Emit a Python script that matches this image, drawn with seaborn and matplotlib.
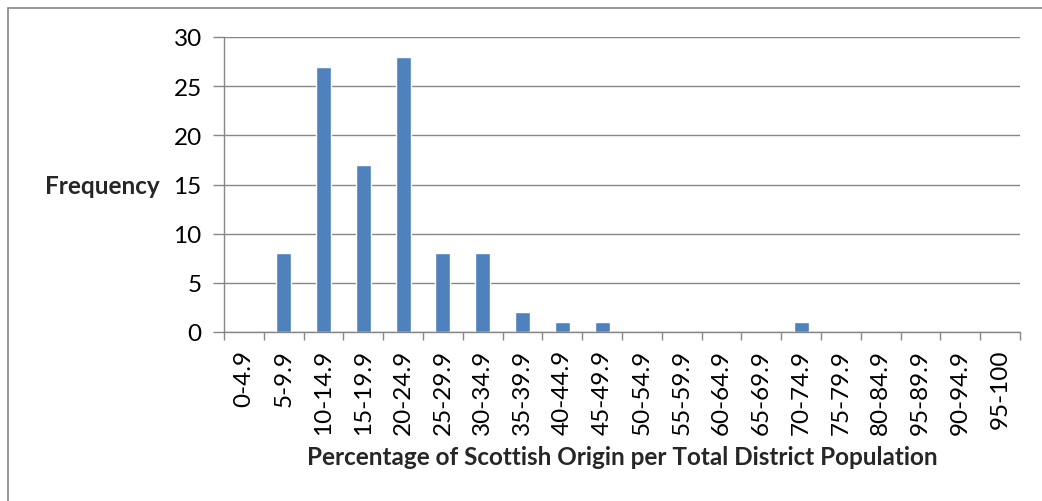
import matplotlib
matplotlib.use("Agg")
import matplotlib.pyplot as plt
from matplotlib.patches import Rectangle
from matplotlib.ticker import FixedLocator
import numpy as np
import pandas as pd
import seaborn as sns

categories = ["0-4.9", "5-9.9", "10-14.9", "15-19.9", "20-24.9", "25-29.9",
              "30-34.9", "35-39.9", "40-44.9", "45-49.9", "50-54.9", "55-59.9",
              "60-64.9", "65-69.9", "70-74.9", "75-79.9", "80-84.9", "95-89.9",
              "90-94.9", "95-100"]
frequency = [0, 8, 27, 17, 28, 8, 8, 2, 1, 1, 0, 0, 0, 0, 1, 0, 0, 0, 0, 0]
y_ticks = [0, 5, 10, 15, 20, 25, 30]

df = pd.DataFrame({"range": categories, "freq": frequency})

sns.set_theme(style="white")
plt.rcParams["font.family"] = ["Lato", "DejaVu Sans"]

grey = "#868686"
fs = 17.5
fig = plt.figure(figsize=(10.42, 5.02), dpi=100)
ax = fig.add_axes([224 / 1042, 1 - 333 / 502, 796 / 1042, 295 / 502])

sns.barplot(data=df, x="range", y="freq", order=categories, color="#4F81BD",
            saturation=1, width=0.38, ax=ax)

ax.set_xlim(-0.5, len(categories) - 0.5)
ax.set_ylim(0, 30)
ax.set_yticks(y_ticks)
ax.yaxis.grid(True, color=grey, linewidth=1.0)
ax.set_axisbelow(True)

for side in ["top", "right"]:
    ax.spines[side].set_visible(False)
for side in ["left", "bottom"]:
    ax.spines[side].set_color(grey)
    ax.spines[side].set_linewidth(1.0)

ax.tick_params(axis="y", which="major", left=True, length=8, width=1.0,
               color=grey, labelsize=fs, pad=8, labelcolor="black")
ax.tick_params(axis="x", which="major", bottom=False, labelsize=fs,
               labelrotation=90, pad=6, labelcolor="black")
ax.xaxis.set_minor_locator(FixedLocator(np.arange(-0.5, len(categories), 1)))
ax.tick_params(axis="x", which="minor", bottom=True, length=6, width=1.0,
               color=grey)

ax.set_xlabel("Percentage of Scottish Origin per Total District Population",
              fontsize=fs, fontweight="bold", labelpad=8)
ax.set_ylabel("")
fig.text(160 / 1042, 1 - 187 / 502, "Frequency", ha="right", va="center",
         fontsize=fs, fontweight="bold")

fig.patches.append(Rectangle((8 / 1042, -0.1), 1.2, 1 - 9 / 502 + 0.1,
                             transform=fig.transFigure, fill=False,
                             edgecolor=grey, linewidth=1.2))

fig.savefig("out.png", dpi=100, facecolor="white")
